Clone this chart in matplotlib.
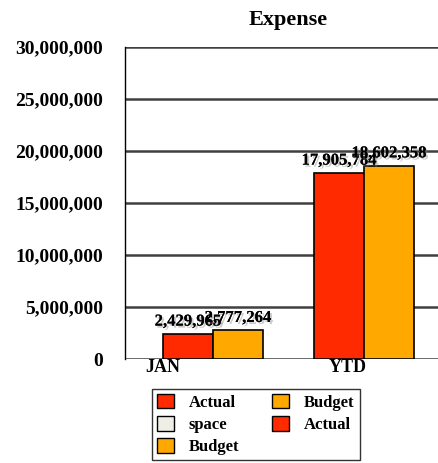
import matplotlib.pyplot as plt
import matplotlib.patheffects as pe
from matplotlib.patches import Patch
import numpy as np

plt.rcParams['font.family'] = ['Liberation Serif', 'DejaVu Serif']
plt.rcParams['font.weight'] = 'bold'

categories = ['JAN', 'YTD']
actual = [2429965, 17905784]
budget = [2777264, 18602358]
y_ticks = [0, 5000000, 10000000, 15000000, 20000000, 25000000, 30000000]

RED = '#ff2a00'
ORANGE = '#ffa800'
SPACE = '#eeeee6'

fig = plt.figure(figsize=(4.39, 4.63), dpi=100)
ax = fig.add_axes([0.2847, 0.2246, 0.7153, 0.6739])

x = np.arange(len(categories))
w = 0.331
bars_a = ax.bar(x - w / 2, actual, w, color=RED, edgecolor='black', linewidth=1.2, zorder=3)
bars_b = ax.bar(x + w / 2, budget, w, color=ORANGE, edgecolor='black', linewidth=1.2, zorder=3)

shadow = [pe.withSimplePatchShadow(offset=(1.5, -1.5), shadow_rgbFace='gray', alpha=0.4), pe.Normal()]
for bars in (bars_a, bars_b):
    for b in bars:
        h = b.get_height()
        ax.annotate(f'{h:,.0f}', (b.get_x() + b.get_width() / 2, h),
                    xytext=(0, 3), textcoords='offset points',
                    ha='center', va='bottom', fontsize=12, fontweight='bold',
                    zorder=5, path_effects=shadow)

ax.set_xlim(-0.583, 1.497)
ax.set_ylim(0, 30000000)
ax.set_yticks(y_ticks)
ax.set_yticklabels([f'{v:,}' for v in y_ticks], fontweight='bold')
ax.yaxis.grid(True, color='#404040', linewidth=1.8, zorder=1)
ax.tick_params(axis='y', length=0, pad=16, labelsize=14)

# category labels sit left of the group centres
ax.set_xticks([-0.33, 0.894])
ax.set_xticklabels(categories, fontweight='bold')
ax.tick_params(axis='x', length=0, pad=0, labelsize=13)

for s in ('top', 'right', 'bottom'):
    ax.spines[s].set_visible(False)
ax.spines['left'].set_linewidth(1)

ax.set_title('Expense', fontsize=16, fontweight='bold', pad=16, x=0.52)

handles = [
    Patch(facecolor=RED, edgecolor='black', label='Actual'),
    Patch(facecolor=SPACE, edgecolor='black', label='space'),
    Patch(facecolor=ORANGE, edgecolor='black', label='Budget'),
    Patch(facecolor=ORANGE, edgecolor='black', label='Budget'),
    Patch(facecolor=RED, edgecolor='black', label='Actual'),
]
leg = fig.legend(handles=handles, ncol=2, loc='lower left',
                 bbox_to_anchor=(152 / 439, 3 / 463), borderaxespad=0,
                 fontsize=12, frameon=True, fancybox=False, edgecolor='black',
                 handlelength=1.0, handleheight=1.0, handletextpad=0.9,
                 columnspacing=2.0, labelspacing=0.3, borderpad=0.3)
leg.get_frame().set_linewidth(1)
for t in leg.get_texts():
    t.set_fontweight('bold')

fig.savefig('out.png', dpi=100)
